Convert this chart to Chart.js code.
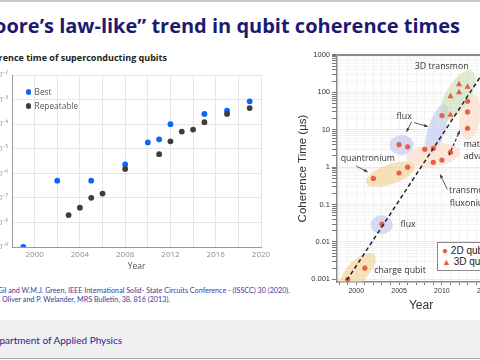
<!DOCTYPE html>
<html>
<head>
<meta charset="utf-8">
<script src="https://cdn.jsdelivr.net/npm/chart.js@4.4.1/dist/chart.umd.min.js"></script>
<style>
  html, body { margin: 0; padding: 0; }
  body { width: 480px; height: 360px; position: relative; overflow: hidden; background: #fff; font-family: "Open Sans", sans-serif; }
  .abs { position: absolute; white-space: nowrap; }
  #topline { left: 0; top: 0; width: 480px; height: 2px; background: #c9c9c9; }
  #title { right: 20px; top: 16px; font: bold 20px "Open Sans"; color: #1c1a70; line-height: 20px; }
  #leftTitle { right: 313px; top: 52px; font: bold 9px "Open Sans"; color: #222; line-height: 11px; }
  #leftChart { left: -60px; top: 45px; }
  #rightChart { left: 280px; top: 40px; }
  .lg { font: 8.3px "Open Sans"; color: #555; line-height: 10px; }
  .dot { display: inline-block; width: 5.6px; height: 5.6px; border-radius: 50%; margin-right: 3.5px; vertical-align: 0px; }
  .cite { font: 7.2px "Lato"; color: #3b3a9c; line-height: 9px; }
  #footer { left: 0; top: 320px; width: 480px; height: 38px; background: #efeef1; border-bottom: 1.5px solid #a8a8a8; }
  #dept { right: 358px; top: 334px; font: 10px "Lato"; color: #27278c; line-height: 13px; }
  #rlegend { left: 437px; top: 242px; width: 70px; height: 27px; background: #fff; border: 1px solid #8a8a8a; font: 10px "Liberation Sans", Arial; color: #222; }
  #rlegend div { position: absolute; left: 4px; line-height: 10px; }
</style>
</head>
<body>
<div id="topline" class="abs"></div>
<div id="title" class="abs">“Moore’s law-like” trend in qubit coherence times</div>

<div id="leftTitle" class="abs">Coherence time of superconducting qubits</div>
<canvas id="leftChart" class="abs" width="336" height="230"></canvas>
<div class="abs lg" style="left:25.5px; top:87px;"><span class="dot" style="background:#0f62fe"></span>Best</div>
<div class="abs lg" style="left:25.5px; top:101px;"><span class="dot" style="background:#3d3d3d"></span>Repeatable</div>

<div class="abs cite" style="right:190px; top:286px;">[1] D. Gil and W.M.J. Green, IEEE International Solid- State Circuits Conference - (ISSCC) 30 (2020).</div>
<div class="abs cite" style="right:310px; top:295px;">[2] W.D. Oliver and P. Welander, MRS Bulletin, 38, 816 (2013).</div>

<canvas id="rightChart" class="abs" width="229" height="274"></canvas>
<div id="rlegend" class="abs">
  <div style="top:3px;"><span style="color:#e5604a; font-size:10px;">●</span>&nbsp;2D qubits</div>
  <div style="top:14px;"><span style="color:#e5604a; font-size:9px;">▲</span>&nbsp;3D qubits</div>
</div>

<div id="footer" class="abs"></div>
<div id="dept" class="abs">Department of Applied Physics</div>

<script>
// ---- left chart: coherence time (s) vs year
const bestYears = [1999, 2002, 2005, 2008, 2010, 2011, 2012, 2015, 2017, 2019];
const bestT = [1e-9, 5e-7, 5e-7, 2.3e-6, 1.8e-5, 2.4e-5, 1e-4, 2.6e-4, 3.5e-4, 8.5e-4];
const repYears = [2003, 2004, 2005, 2006, 2008, 2011, 2012, 2013, 2014, 2015, 2017, 2019];
const repT = [2e-8, 4e-8, 1e-7, 1.5e-7, 1.5e-6, 6e-6, 2e-5, 5e-5, 6e-5, 1.2e-4, 2.6e-4, 4.5e-4];
const leftExps = [-9, -8, -7, -6, -5, -4, -3, -2];
const leftYearTicks = [1998, 2000, 2002, 2004, 2006, 2008, 2010, 2012, 2014, 2016, 2018, 2020];

// ---- right chart: coherence time (us) vs year
const q2dYears = [1999, 2001, 2003, 2002, 2005, 2006, 2005, 2006, 2008, 2009, 2009, 2010, 2011, 2010, 2013, 2013, 2013];
const q2dT = [0.001, 0.002, 0.03, 0.5, 0.7, 1.0, 4, 3.5, 3.0, 3.2, 1.35, 1.55, 2.5, 24, 58, 30, 11];
const q3dYears = [2011, 2011, 2012, 2012, 2013];
const q3dT = [25, 78, 100, 164, 140];
const trendYears = [1998.9, 2015.5];
const trendT = [0.00095, 590];
const rightTickLabels = ['0.001', '0.01', '0.1', '1', '10', '100', '1000'];
const rightYearTicks = [1998, 1999, 2000, 2001, 2002, 2003, 2004, 2005, 2006, 2007, 2008, 2009, 2010, 2011, 2012, 2013, 2014, 2015, 2016, 2017];

const sup = {'-': '⁻', '0': '⁰', '1': '¹', '2': '²', '3': '³', '4': '⁴', '5': '⁵', '6': '⁶', '7': '⁷', '8': '⁸', '9': '⁹'};
const toSup = n => String(n).split('').map(c => sup[c]).join('');

const pts = (xs, ys) => xs.map((x, i) => ({x, y: ys[i]}));

new Chart(document.getElementById('leftChart'), {
  type: 'scatter',
  data: {
    datasets: [
      { label: 'Repeatable', data: pts(repYears, repT), backgroundColor: '#3d3d3d', borderWidth: 0, pointRadius: 2.9 },
      { label: 'Best', data: pts(bestYears, bestT), backgroundColor: '#0f62fe', borderWidth: 0, pointRadius: 2.9 }
    ]
  },
  options: {
    responsive: false,
    animation: false,
    layout: { padding: { top: 30, right: 15, left: 0, bottom: 0 } },
    plugins: { legend: { display: false }, tooltip: { enabled: false } },
    scales: {
      x: {
        type: 'linear', min: 1998, max: 2020,
        afterBuildTicks: s => { s.ticks = leftYearTicks.map(v => ({value: v})); },
        afterFit: s => { s.height = 28; },
        ticks: { callback: v => (v % 4 === 0 ? String(v) : ''), color: '#8c8c8c', font: { size: 8, family: 'Open Sans' }, padding: 3, autoSkip: false, maxRotation: 0 },
        grid: { color: '#e4e4ec', drawTicks: false },
        border: { color: '#9a9a9a' },
        title: { display: true, text: 'Year', color: '#555', font: { size: 8.5, family: 'Open Sans' }, padding: { top: 0, bottom: 3 } }
      },
      y: {
        type: 'logarithmic', min: 1e-9, max: 1e-2,
        afterBuildTicks: s => { s.ticks = leftExps.map(e => ({value: Math.pow(10, e)})); },
        afterFit: s => { s.width = 72; },
        ticks: { callback: v => '10' + toSup(Math.round(Math.log10(v))), color: '#9a9a9a', font: { size: 8, family: 'Open Sans' }, padding: 4, autoSkip: false },
        grid: { color: '#e4e4ec', drawTicks: false },
        border: { color: '#9a9a9a' }
      }
    }
  }
});

// shaded groups, labels and arrows on the right chart (data units, px radii)
const blobs = [
  { x: 2000.2, y: 0.0017, rx: 23, ry: 10.5, rot: -45, c: 'rgba(244,206,140,0.6)' },
  { x: 2002.96, y: 0.029, rx: 11, ry: 9.5, rot: 0, c: 'rgba(180,192,235,0.55)' },
  { x: 2004.0, y: 0.65, rx: 26, ry: 10, rot: -20, c: 'rgba(244,206,140,0.6)' },
  { x: 2005.3, y: 3.9, rx: 12, ry: 10, rot: 0, c: 'rgba(180,192,235,0.55)' },
  { x: 2009.4, y: 10.2, rx: 27, ry: 8.5, rot: -72, c: 'rgba(180,192,235,0.55)' },
  { x: 2009.0, y: 2.1, rx: 27, ry: 11.5, rot: -8, c: 'rgba(250,218,195,0.65)' },
  { x: 2011.9, y: 85, rx: 28, ry: 12, rot: -60, c: 'rgba(200,222,180,0.6)' },
  { x: 2013.3, y: 22, rx: 23, ry: 10, rot: -82, c: 'rgba(250,218,195,0.65)' }
];
const notes = [
  { t: '3D transmon', x: 2006.84, y: 507 },
  { t: 'flux', x: 2004.71, y: 23.3 },
  { t: 'quantronium', x: 1998.18, y: 1.75 },
  { t: 'materials', x: 2012.54, y: 4.14 },
  { t: 'advances', x: 2012.54, y: 1.98 },
  { t: 'transmon,', x: 2010.83, y: 0.243 },
  { t: 'fluxonium', x: 2010.92, y: 0.107 },
  { t: 'flux', x: 2005.17, y: 0.0293 },
  { t: 'charge qubit', x: 2002.09, y: 0.00168 }
];
const arrows = [
  { from: [2006.45, 16.4], to: [2005.88, 8.8] },
  { from: [2006.76, 15.6], to: [2008.36, 12.2] },
  { from: [2000.0, 1.07], to: [2001.32, 0.75] },
  { from: [2010.64, 0.254], to: [2009.8, 0.64] },
  { from: [2010.83, 2.1], to: [2012.09, 9.4], dash: true }
];

const decorPlugin = {
  id: 'decor',
  beforeDatasetsDraw(chart) {
    const {ctx, chartArea: a, scales: {x, y}} = chart;
    ctx.save();
    ctx.beginPath();
    ctx.rect(a.left, a.top, a.right - a.left, a.bottom - a.top);
    ctx.clip();
    blobs.forEach(b => {
      ctx.beginPath();
      ctx.ellipse(x.getPixelForValue(b.x), y.getPixelForValue(b.y), b.rx, b.ry, b.rot * Math.PI / 180, 0, Math.PI * 2);
      ctx.fillStyle = b.c;
      ctx.fill();
    });
    ctx.restore();
  },
  afterDatasetsDraw(chart) {
    const {ctx, scales: {x, y}} = chart;
    ctx.save();
    ctx.fillStyle = '#333';
    ctx.font = '8.8px "Open Sans"';
    ctx.textAlign = 'left';
    ctx.textBaseline = 'middle';
    notes.forEach(n => ctx.fillText(n.t, x.getPixelForValue(n.x), y.getPixelForValue(n.y)));

    arrows.forEach(ar => {
      const x0 = x.getPixelForValue(ar.from[0]), y0 = y.getPixelForValue(ar.from[1]);
      const x1 = x.getPixelForValue(ar.to[0]), y1 = y.getPixelForValue(ar.to[1]);
      const ang = Math.atan2(y1 - y0, x1 - x0);
      ctx.strokeStyle = '#333';
      ctx.lineWidth = ar.dash ? 1.2 : 0.8;
      ctx.setLineDash(ar.dash ? [3, 2] : []);
      ctx.beginPath();
      ctx.moveTo(x0, y0);
      ctx.lineTo(x1, y1);
      ctx.stroke();
      ctx.setLineDash([]);
      ctx.fillStyle = '#333';
      ctx.beginPath();
      ctx.moveTo(x1, y1);
      ctx.lineTo(x1 - 4 * Math.cos(ang - 0.4), y1 - 4 * Math.sin(ang - 0.4));
      ctx.lineTo(x1 - 4 * Math.cos(ang + 0.4), y1 - 4 * Math.sin(ang + 0.4));
      ctx.closePath();
      ctx.fill();
    });
    ctx.restore();
  }
};

const rightTicks = [];
for (let e = -3; e <= 2; e++) {
  for (let m = 1; m <= 9; m++) rightTicks.push(m * Math.pow(10, e));
}
rightTicks.push(1000);
const isDecade = v => Math.abs(Math.log10(v) - Math.round(Math.log10(v))) < 1e-6;

new Chart(document.getElementById('rightChart'), {
  type: 'scatter',
  data: {
    datasets: [
      { type: 'line', label: 'trend', data: pts(trendYears, trendT), borderColor: '#222', borderWidth: 1.5, borderDash: [4, 3], pointRadius: 0, fill: false },
      { label: '2D qubits', data: pts(q2dYears, q2dT), backgroundColor: '#e5604a', borderWidth: 0, pointRadius: 2.6 },
      { label: '3D qubits', data: pts(q3dYears, q3dT), backgroundColor: '#e5604a', borderWidth: 0, pointStyle: 'triangle', pointRadius: 3.6 }
    ]
  },
  options: {
    responsive: false,
    animation: false,
    layout: { padding: { top: 15, right: 0, left: 0, bottom: 0 } },
    plugins: { legend: { display: false }, tooltip: { enabled: false } },
    scales: {
      x: {
        type: 'linear', min: 1997.75, max: 2017.37,
        afterBuildTicks: s => { s.ticks = rightYearTicks.map(v => ({value: v})); },
        afterFit: s => { s.height = 32; },
        ticks: { callback: v => (v % 5 === 0 ? String(v) : ''), color: '#333', font: { size: 7, family: 'Liberation Sans' }, padding: 2, autoSkip: false, maxRotation: 0 },
        grid: { color: '#f1f1f1', tickColor: '#777', tickLength: 3 },
        border: { color: '#8a8a8a', width: 1.5 },
        title: { display: true, text: 'Year', color: '#333', font: { size: 12, family: 'Liberation Sans' }, padding: { top: 0, bottom: 1.5 } }
      },
      y: {
        type: 'logarithmic', min: 0.000851, max: 1000,
        afterBuildTicks: s => { s.ticks = rightTicks.filter(v => v >= 0.000851).map(v => ({value: v})); },
        afterFit: s => { s.width = 57; },
        ticks: { callback: v => (isDecade(v) ? rightTickLabels[Math.round(Math.log10(v)) + 3] : ''), color: '#333', font: { size: 7.5, family: 'Liberation Sans' }, padding: 2, autoSkip: false },
        grid: {
          color: c => (c.tick && c.tick.value === 1000 ? '#8a8a8a' : (c.tick && isDecade(c.tick.value) ? '#e9e9e9' : '#f3f3f3')),
          lineWidth: c => (c.tick && c.tick.value === 1000 ? 2 : 1),
          tickColor: '#777', tickLength: 5
        },
        border: { color: '#8a8a8a', width: 1.5 },
        title: { display: true, text: 'Coherence Time (µs)', color: '#333', font: { size: 11.5, family: 'Liberation Sans' }, padding: { top: 16, bottom: 0 } }
      }
    }
  },
  plugins: [decorPlugin]
});
</script>
</body>
</html>
